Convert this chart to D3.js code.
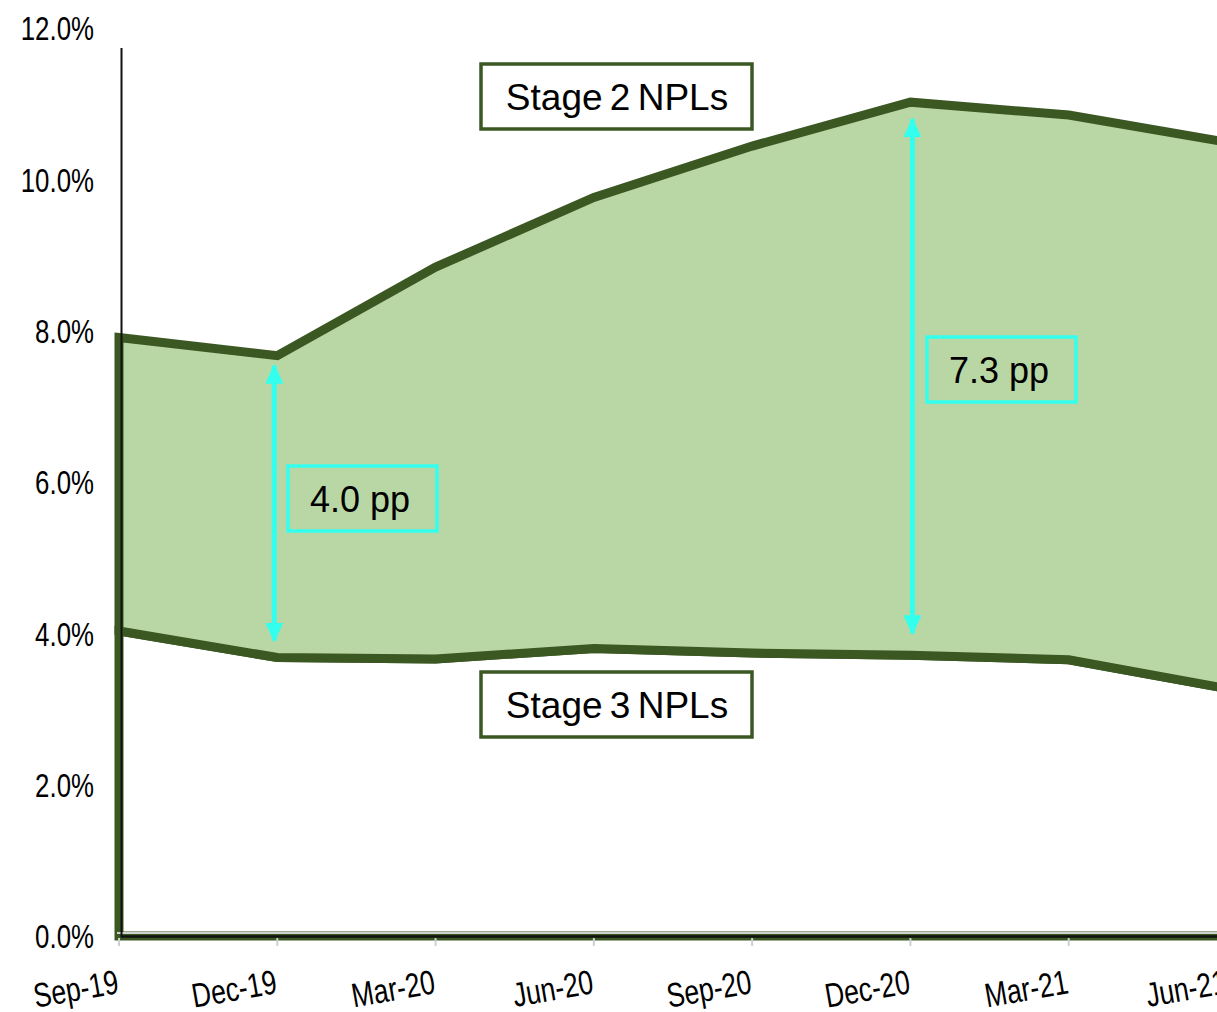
<!DOCTYPE html>
<html>
<head>
<meta charset="utf-8">
<script src="https://cdn.jsdelivr.net/npm/d3@7/dist/d3.min.js"></script>
<style>
  html, body { margin: 0; padding: 0; background: #fff; }
  svg { display: block; }
</style>
</head>
<body>
<svg id="chart" width="1217" height="1012"></svg>
<script>
// Quarter-end reporting dates
const quarters = ["Sep-19", "Dec-19", "Mar-20", "Jun-20", "Sep-20", "Dec-20", "Mar-21", "Jun-21"];
// Stage 3 NPL ratio (% of loans)
const stage3 = [4.03, 3.68, 3.66, 3.80, 3.74, 3.71, 3.65, 3.27];
// Stage 2 ratio, stacked on top of stage 3 (percentage points)
const stage2 = [3.88, 3.99, 5.18, 5.96, 6.70, 7.31, 7.20, 7.22];
// Y-axis ticks (%)
const yTicks = [0, 2, 4, 6, 8, 10, 12];
// Dates at which the gap between the two series is highlighted
const gapDates = ["Dec-19", "Dec-20"];

const svg = d3.select("#chart");
const sans = "'Liberation Sans', Arial, Helvetica, sans-serif";
const dark = "#3b5823";
const fill2 = "#b9d7a5";
const cyan = "#33ffee";
// Axis labels use a condensed look: regular sans squeezed horizontally
const squeeze = 0.76;

const x = d3.scalePoint().domain(quarters).range([119, 1227]);
const y = d3.scaleLinear().domain([0, 12]).range([936, 28]);

const rows = quarters.map((q, i) => ({ q, s3: stage3[i], s2: stage2[i] }));
const stacked = d3.stack().keys(["s3", "s2"])(rows);

const area = d3.area()
  .x(d => x(d.data.q))
  .y0(d => y(d[0]))
  .y1(d => y(d[1]));

// Stacked areas: stage 3 (white) and stage 2 (light green)
svg.append("g").selectAll("path")
  .data(stacked)
  .join("path")
  .attr("d", area)
  .attr("fill", (d, i) => i === 0 ? "#ffffff" : fill2)
  .attr("stroke", dark)
  .attr("stroke-width", 9)
  .attr("stroke-linejoin", "miter");

// X axis: light gray baseline and ticks, black axis line
svg.append("line")
  .attr("x1", 117).attr("x2", 1217)
  .attr("y1", 933).attr("y2", 933)
  .attr("stroke", "#d0d0d0").attr("stroke-width", 2);
svg.append("line")
  .attr("x1", 121).attr("x2", 1217)
  .attr("y1", 936.5).attr("y2", 936.5)
  .attr("stroke", "#111").attr("stroke-width", 2.5);
svg.append("g").selectAll("line")
  .data(quarters)
  .join("line")
  .attr("x1", d => x(d)).attr("x2", d => x(d))
  .attr("y1", 938).attr("y2", 946)
  .attr("stroke", "#cfcfcf").attr("stroke-width", 2);

// Y axis line
svg.append("line")
  .attr("x1", 121.5).attr("x2", 121.5)
  .attr("y1", 48).attr("y2", 937)
  .attr("stroke", "#111").attr("stroke-width", 2);

// Y tick labels
svg.append("g").selectAll("text")
  .data(yTicks)
  .join("text")
  .attr("transform", d => `translate(94,${y(d)}) scale(${squeeze},1)`)
  .attr("dy", "0.36em")
  .attr("text-anchor", "end")
  .attr("font-family", sans)
  .attr("font-size", 34)
  .attr("fill", "#000")
  .text(d => d.toFixed(1) + "%");

// X tick labels, slanted
svg.append("g").selectAll("text")
  .data(quarters)
  .join("text")
  .attr("transform", d => `translate(${x(d) + 1},993) rotate(-10) scale(${squeeze + 0.02},1)`)
  .attr("text-anchor", "end")
  .attr("font-family", sans)
  .attr("font-size", 34)
  .attr("fill", "#000")
  .text(d => d);

// Series name boxes
function nameBox(label, bx, by) {
  const g = svg.append("g");
  g.append("rect")
    .attr("x", bx).attr("y", by)
    .attr("width", 271).attr("height", 65)
    .attr("fill", "#fff")
    .attr("stroke", dark).attr("stroke-width", 3.5);
  g.append("text")
    .attr("x", bx + 136).attr("y", by + 33)
    .attr("dy", "0.35em")
    .attr("text-anchor", "middle")
    .attr("font-family", sans)
    .attr("font-size", 37)
    .attr("word-spacing", -3)
    .attr("fill", "#000")
    .text(label);
}
nameBox("Stage 2 NPLs", 481, 64);
nameBox("Stage 3 NPLs", 481, 672);

// Gap arrows with value boxes
const defs = svg.append("defs");
defs.append("marker")
  .attr("id", "head")
  .attr("viewBox", "0 0 20 18")
  .attr("refX", 18).attr("refY", 9)
  .attr("markerWidth", 20).attr("markerHeight", 18)
  .attr("markerUnits", "userSpaceOnUse")
  .attr("orient", "auto-start-reverse")
  .append("path")
  .attr("d", "M0,0 L20,9 L0,18 Z")
  .attr("fill", cyan);

const gapBoxes = {
  "Dec-19": { dx: -3, bx: 288, by: 466, topInset: 10, botInset: 17 },
  "Dec-20": { dx: 2, bx: 927, by: 337, topInset: 17, botInset: 22 }
};

gapDates.forEach(q => {
  const r = rows.find(d => d.q === q);
  const cfg = gapBoxes[q];
  const ax = x(q) + cfg.dx;
  const top = y(r.s3 + r.s2) + cfg.topInset;
  const bot = y(r.s3) - cfg.botInset;
  svg.append("line")
    .attr("x1", ax).attr("x2", ax)
    .attr("y1", bot).attr("y2", top)
    .attr("stroke", cyan).attr("stroke-width", 5)
    .attr("marker-start", "url(#head)")
    .attr("marker-end", "url(#head)");
  svg.append("rect")
    .attr("x", cfg.bx).attr("y", cfg.by)
    .attr("width", 149).attr("height", 65)
    .attr("fill", "none")
    .attr("stroke", cyan).attr("stroke-width", 3.5);
  svg.append("text")
    .attr("x", cfg.bx + 72).attr("y", cfg.by + 33)
    .attr("dy", "0.35em")
    .attr("text-anchor", "middle")
    .attr("font-family", sans)
    .attr("font-size", 36)
    .attr("fill", "#000")
    .text(r.s2.toFixed(1) + " pp");
});
</script>
</body>
</html>
